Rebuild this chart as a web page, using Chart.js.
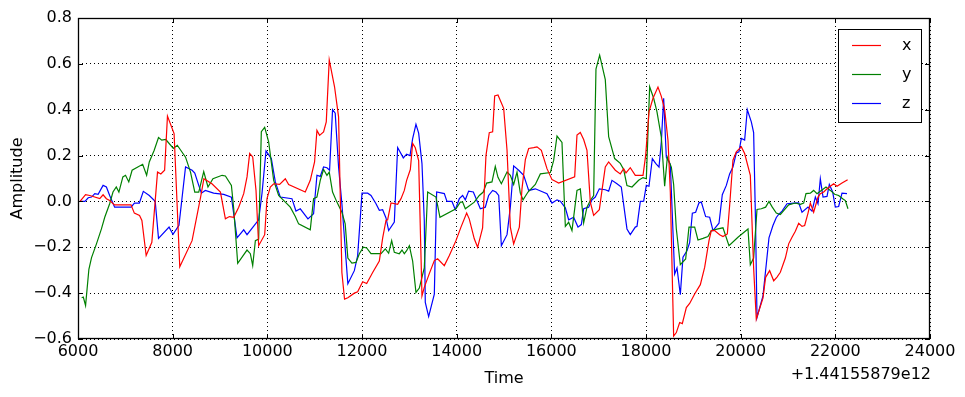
<!DOCTYPE html>
<html>
<head>
<meta charset="utf-8">
<script src="https://cdn.jsdelivr.net/npm/chart.js@4"></script>
<style>
  body { margin: 0; background: #fff; }
</style>
</head>
<body>
<canvas id="myChart" width="965" height="397"></canvas>
<script>
// time axis is shown with an offset of +1.44155879e12
const timeOffset = "+1.44155879e12";
const xTicks = [6000, 8000, 10000, 12000, 14000, 16000, 18000, 20000, 22000, 24000];
const yTicks = [-0.6, -0.4, -0.2, 0.0, 0.2, 0.4, 0.6, 0.8];
const seriesNames = ["x", "y", "z"];
const seriesColors = ["#ff0000", "#008000", "#0000ff"];

// x
const xTime = [
  6042,6160,6250,6460,6530,6600,6670,6770,7120,7190,
  7300,7350,7440,7560,7680,7750,7830,7890,8030,8150,
  8410,8590,8660,8830,9009,9114,9199,9290,9395,9501,
  9571,9627,9691,9761,9817,9944,9993,10063,10134,10260,
  10380,10450,10801,10907,10998,11048,11104,11188,11245,11308,
  11420,11505,11575,11631,11701,11838,11908,12014,12099,12225,
  12366,12437,12507,12542,12612,12753,12824,12894,12943,13021,
  13070,13126,13197,13267,13316,13422,13528,13598,13739,13845,
  13985,14091,14211,14267,14372,14443,14548,14619,14689,14760,
  14803,14873,14993,15064,15134,15204,15324,15380,15451,15521,
  15627,15697,15789,15908,16014,16084,16155,16493,16542,16612,
  16683,16753,16824,16894,17014,17070,17140,17211,17352,17457,
  17528,17577,17668,17774,17937,17993,18063,18148,18253,18324,
  18394,18465,18514,18584,18641,18711,18767,18852,18922,19028,
  19148,19239,19331,19380,19450,19556,19626,19718,19767,19837,
  19908,20014,20084,20204,20274,20330,20471,20527,20612,20698,
  20768,20838,20944,21014,21085,21155,21226,21296,21352,21423,
  21472,21542,21634,21683,21754,21803,21894,21965,22035,22141,
  22260
];
const xAmp = [
  0,0.03,0.026,0.012,0.029,0.012,0.004,-0.015,-0.015,-0.051,
  -0.061,-0.083,-0.236,-0.178,0.128,0.12,0.136,0.372,0.296,-0.285,
  -0.171,0.019,0.099,0.077,0.041,-0.076,-0.066,-0.069,-0.025,0.034,
  0.107,0.209,0.194,0.047,-0.193,-0.145,0.012,0.063,0.077,0.074,
  0.099,0.074,0.041,0.092,0.172,0.31,0.288,0.303,0.347,0.617,
  0.5,0.369,-0.31,-0.426,-0.42,-0.4,-0.394,-0.35,-0.358,-0.31,
  -0.26,-0.159,-0.083,-0.08,-0.007,-0.013,0.012,0.048,0.092,0.139,
  0.253,0.234,0.178,-0.412,-0.375,-0.315,-0.258,-0.25,-0.28,-0.236,
  -0.171,-0.112,-0.051,-0.077,-0.163,-0.2,-0.115,0.2,0.3,0.304,
  0.46,0.464,0.406,0.223,-0.112,-0.185,-0.112,0.055,0.182,0.231,
  0.235,0.238,0.223,0.143,0.095,0.088,0.08,0.107,0.29,0.301,
  0.27,0.223,-0.003,-0.061,-0.036,0.048,0.15,0.172,0.136,0.12,
  0.143,0.124,0.147,0.114,0.114,0.201,0.391,0.45,0.499,0.458,
  0.4,0.266,0.04,-0.587,-0.572,-0.528,-0.533,-0.463,-0.445,-0.404,
  -0.363,-0.288,-0.171,-0.127,-0.127,-0.145,-0.153,-0.142,-0.018,0.18,
  0.216,0.238,0.209,0.114,-0.29,-0.514,-0.422,-0.331,-0.302,-0.346,
  -0.33,-0.309,-0.247,-0.185,-0.156,-0.13,-0.095,-0.109,-0.105,-0.051,
  -0.007,-0.047,0.019,0.034,0.041,0.051,0.066,0.077,0.066,0.08,
  0.095
];

// y
const yTime = [
  6077,6112,6160,6230,6286,6390,6495,6565,6669,6739,
  6809,6864,6948,7004,7073,7143,7366,7450,7506,7610,
  7701,7770,7854,8014,8098,8272,8377,8467,8551,8656,
  8746,8851,9044,9114,9241,9290,9374,9571,9641,9691,
  9747,9817,9873,9944,10028,10134,10239,10380,10485,10591,
  10661,10907,10977,11048,11118,11188,11259,11308,11378,11470,
  11575,11645,11701,11786,11873,11944,12028,12099,12190,12401,
  12493,12563,12627,12683,12788,12845,12894,12943,13000,13070,
  13140,13211,13316,13387,13563,13647,13985,14077,14126,14183,
  14372,14478,14562,14633,14746,14816,14873,14944,15064,15134,
  15204,15275,15345,15402,15507,15662,15768,15979,16049,16120,
  16225,16296,16366,16436,16542,16612,16683,16753,16824,16894,
  16943,17021,17140,17211,17338,17457,17528,17598,17704,17844,
  17937,18007,18077,18162,18232,18324,18394,18451,18535,18584,
  18641,18725,18838,18908,19028,19098,19204,19309,19380,19521,
  19626,19753,19943,20155,20204,20274,20345,20436,20527,20598,
  20668,20753,20838,20909,21014,21155,21261,21331,21380,21472,
  21542,21613,21704,21803,21894,21986,22070,22155,22211,22267
];
const yAmp = [
  -0.42,-0.417,-0.454,-0.296,-0.245,-0.185,-0.12,-0.069,-0.01,0.041,
  0.063,0.041,0.107,0.114,0.085,0.136,0.162,0.114,0.172,0.223,
  0.279,0.267,0.27,0.231,0.245,0.193,0.128,0.041,0.041,0.13,
  0.063,0.099,0.114,0.111,0.07,-0.032,-0.27,-0.212,-0.228,-0.28,
  -0.171,-0.164,0.304,0.323,0.26,0.092,0.026,-0.003,-0.025,-0.066,
  -0.098,-0.124,0.012,0.019,0.092,0.139,0.114,0.128,0.041,-0.003,
  -0.047,-0.098,-0.247,-0.269,-0.266,-0.228,-0.2,-0.203,-0.228,-0.228,
  -0.207,-0.226,-0.171,-0.222,-0.228,-0.212,-0.228,-0.215,-0.193,-0.26,
  -0.397,-0.378,-0.29,0.041,0.019,-0.069,-0.032,-0.003,-0.003,-0.032,
  -0.003,0.026,0.041,0.08,0.085,0.153,0.105,0.077,0.128,0.114,
  0.074,0.128,0.036,0.007,0.041,0.074,0.12,0.126,0.179,0.285,
  0.257,-0.109,-0.091,-0.127,0.048,0.055,-0.093,-0.025,0.004,0.026,
  0.577,0.638,0.531,0.282,0.187,0.166,0.139,0.069,0.063,0.092,
  0.104,0.099,0.5,0.45,0.391,0.28,0.066,0.193,0.15,0.074,
  -0.12,-0.276,-0.251,-0.112,-0.112,-0.168,-0.161,-0.153,-0.127,-0.12,
  -0.115,-0.193,-0.156,-0.12,-0.276,-0.247,-0.035,-0.032,-0.025,0,
  -0.025,-0.051,-0.057,-0.04,-0.015,-0.007,-0.013,-0.007,0.034,0.036,
  0.048,0.034,0.048,0.063,0.048,0.031,0.026,0.012,0.004,-0.032
];

// z
const zTime = [
  6042,6146,6216,6286,6355,6425,6530,6600,6669,6774,
  7122,7192,7296,7380,7506,7631,7701,7924,8007,8133,
  8272,8411,8467,8551,8607,8690,8865,9079,9241,9360,
  9501,9571,9817,9888,9972,10084,10169,10274,10520,10605,
  10696,10858,10977,11048,11118,11188,11259,11315,11378,11434,
  11505,11575,11701,11838,11908,12000,12120,12190,12296,12366,
  12436,12507,12563,12683,12753,12873,12943,13014,13070,13140,
  13197,13267,13316,13337,13408,13528,13577,13739,13795,13901,
  13971,14056,14126,14183,14253,14352,14500,14605,14675,14760,
  14830,14888,14944,15064,15134,15204,15310,15416,15486,15521,
  15662,15908,16014,16120,16190,16296,16366,16472,16563,16634,
  16683,16788,16859,16929,17014,17140,17211,17281,17387,17478,
  17598,17668,17774,17810,17880,17951,18007,18063,18134,18204,
  18275,18324,18373,18429,18514,18605,18655,18725,18781,18866,
  18922,18979,19049,19119,19169,19260,19345,19415,19542,19612,
  19697,19767,19837,19908,19964,20014,20084,20140,20225,20274,
  20316,20345,20471,20541,20598,20682,20753,20803,20874,20979,
  21120,21226,21296,21423,21507,21578,21634,21683,21740,21824,
  21873,21944,22000,22070,22141,22246
];
const zAmp = [
  0,0,0.016,0.019,0.034,0.031,0.07,0.063,0.026,-0.025,
  -0.025,-0.007,-0.007,0.044,0.026,0.001,-0.161,-0.112,-0.144,-0.104,
  0.15,0.136,0.124,0.07,0.036,0.048,0.036,0.031,0.019,-0.159,
  -0.124,-0.145,-0.08,0.036,0.22,0.187,0.085,0.019,0.012,-0.042,
  -0.032,-0.076,-0.054,0.114,0.109,0.15,0.147,0.136,0.4,0.385,
  0.15,-0.01,-0.359,-0.302,-0.237,0.036,0.036,0.026,-0.01,-0.039,
  -0.036,-0.072,-0.127,-0.09,0.235,0.19,0.206,0.2,0.274,0.336,
  0.298,0.165,-0.083,-0.44,-0.502,-0.404,0.041,0.034,0,0,
  -0.036,0.012,0.026,0.007,0.045,0.041,-0.032,-0.025,0.026,0.048,
  0.041,0.026,-0.193,-0.145,-0.025,0.155,0.136,0.114,0.07,0.048,
  0.055,0.034,-0.007,0.007,0.001,-0.028,-0.08,-0.069,-0.112,-0.101,
  -0.032,-0.025,0.007,0.019,0.055,0.051,0.045,0.092,0.077,0.063,
  -0.12,-0.145,-0.112,-0.109,0,0.001,0.07,0.066,0.187,0.166,
  0.15,0.26,0.45,0.193,0.161,-0.317,-0.29,-0.407,-0.243,-0.215,
  -0.18,-0.051,-0.047,-0.006,-0.003,-0.066,-0.069,-0.127,-0.095,0.029,
  0.07,0.12,0.15,0.212,0.216,0.275,0.268,0.4,0.347,0.3,
  -0.112,-0.506,-0.412,-0.274,-0.159,-0.105,-0.07,-0.057,-0.042,-0.01,
  -0.007,-0.006,-0.047,-0.025,-0.042,0.019,-0.01,0.099,0.019,0.022,
  0.074,0.041,-0.025,-0.022,0.036,0.034
];

const FONT = "'DejaVu Sans', sans-serif";
const toPoints = (ts, vs) => ts.map((t, i) => ({ x: t, y: vs[i] }));
const seriesPoints = [toPoints(xTime, xAmp), toPoints(yTime, yAmp), toPoints(zTime, zAmp)];

// frame, inward ticks, legend box and offset text, matplotlib style
const framePlugin = {
    id: "frame",
    afterDatasetsDraw(chart) {
        const { ctx, chartArea: a, scales } = chart;
        ctx.save();
        ctx.strokeStyle = "#000";
        ctx.lineWidth = 1;
        ctx.beginPath();
        xTicks.forEach(v => {
            const px = Math.round(scales.x.getPixelForValue(v)) + 0.5;
            ctx.moveTo(px, a.bottom); ctx.lineTo(px, a.bottom - 5);
            ctx.moveTo(px, a.top); ctx.lineTo(px, a.top + 5);
        });
        yTicks.forEach(v => {
            const py = Math.round(scales.y.getPixelForValue(v)) + 0.5;
            ctx.moveTo(a.left, py); ctx.lineTo(a.left + 5, py);
            ctx.moveTo(a.right, py); ctx.lineTo(a.right - 5, py);
        });
        ctx.stroke();
        ctx.lineWidth = 1.3;
        ctx.strokeRect(a.left + 0.5, a.top + 0.5, a.right - a.left - 1, a.bottom - a.top - 1);

        // legend
        const lx = a.right - 92, ly = a.top + 11;
        ctx.fillStyle = "#fff";
        ctx.fillRect(lx, ly, 83, 93);
        ctx.lineWidth = 1;
        ctx.strokeRect(lx + 0.5, ly + 0.5, 83, 93);
        ctx.font = "16px " + FONT;
        ctx.textBaseline = "middle";
        ctx.textAlign = "left";
        chart.data.datasets.forEach((ds, i) => {
            const yy = ly + 16.5 + i * 29;
            ctx.strokeStyle = ds.borderColor;
            ctx.lineWidth = 1.2;
            ctx.beginPath();
            ctx.moveTo(lx + 14, yy); ctx.lineTo(lx + 43, yy);
            ctx.stroke();
            ctx.fillStyle = "#000";
            ctx.fillText(ds.label, lx + 64, yy);
        });

        // offset text of the time axis
        ctx.textAlign = "right";
        ctx.fillText(timeOffset, a.right + 1, 375);
        ctx.restore();
    }
};

const ctx = document.getElementById("myChart").getContext("2d");
new Chart(ctx, {
    type: "line",
    data: {
        datasets: seriesNames.map((name, i) => ({
            label: name,
            data: seriesPoints[i],
            borderColor: seriesColors[i],
            backgroundColor: seriesColors[i],
            borderWidth: 1.2,
            pointRadius: 0,
            tension: 0,
            fill: false
        }))
    },
    options: {
        responsive: false,
        animation: false,
        devicePixelRatio: 1,
        layout: { padding: { top: 18, right: 35, left: 0, bottom: 0 } },
        plugins: { legend: { display: false }, tooltip: { enabled: false } },
        scales: {
            x: {
                type: "linear",
                min: 6000,
                max: 24000,
                afterBuildTicks: s => { s.ticks = xTicks.map(v => ({ value: v })); },
                afterFit: s => { s.height = 58; },
                ticks: {
                    color: "#000",
                    font: { family: FONT, size: 16 },
                    padding: 3,
                    maxRotation: 0,
                    autoSkip: false,
                    callback: v => String(v)
                },
                grid: { color: "#000", lineWidth: 1, drawTicks: false },
                border: { display: false, dash: [1, 3] },
                title: {
                    display: true,
                    text: "Time",
                    color: "#000",
                    font: { family: FONT, size: 16 },
                    padding: { top: 0, bottom: 9 }
                }
            },
            y: {
                min: -0.6,
                max: 0.8,
                afterBuildTicks: s => { s.ticks = yTicks.map(v => ({ value: v })); },
                afterFit: s => { s.width = 78; },
                ticks: {
                    color: "#000",
                    font: { family: FONT, size: 16 },
                    padding: 6,
                    autoSkip: false,
                    callback: v => (Math.abs(v) < 1e-9 ? "0.0" : v.toFixed(1).replace("-", "\u2212"))
                },
                grid: { color: "#000", lineWidth: 1, drawTicks: false },
                border: { display: false, dash: [1, 3] },
                title: {
                    display: true,
                    text: "Amplitude",
                    color: "#000",
                    font: { family: FONT, size: 16 },
                    padding: { top: 8, bottom: 0 }
                }
            }
        }
    },
    plugins: [framePlugin]
});
</script>
</body>
</html>
